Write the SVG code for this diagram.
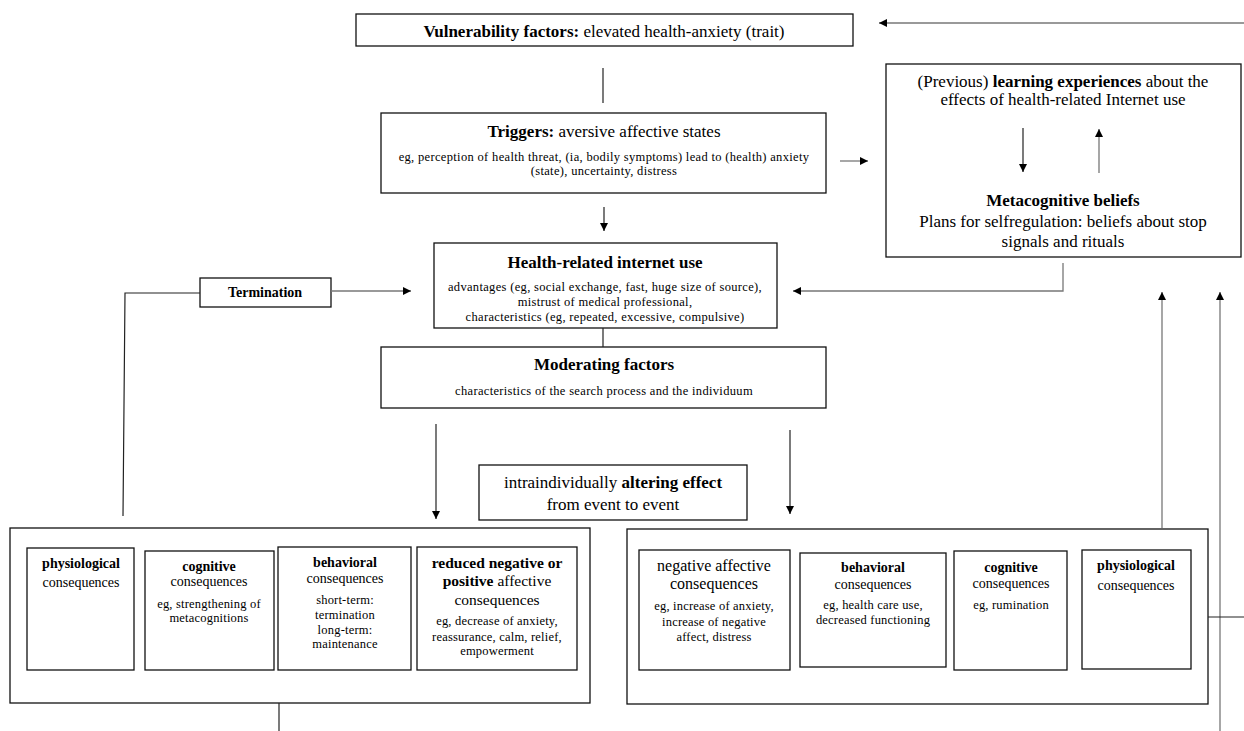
<svg xmlns="http://www.w3.org/2000/svg" width="1244" height="731" viewBox="0 0 1244 731">
<defs>
<marker id="ah" viewBox="0 0 10 10" refX="10" refY="5" markerWidth="9" markerHeight="8" markerUnits="userSpaceOnUse" orient="auto">
<path d="M0,0 L10,5 L0,10 z" fill="#000"/>
</marker>
<style>
.box{fill:#fff;stroke:#111;stroke-width:1.3}
.ln{fill:none;stroke:#222;stroke-width:1.2}
.lg{fill:none;stroke:#777;stroke-width:1.3}
text{font-family:"Liberation Serif","Times New Roman",serif;fill:#000;text-anchor:middle}
.b{font-weight:bold}
.t17{font-size:17px}
.t16{font-size:16px}
.t155{font-size:15.5px}
.t14{font-size:14px}
.sm{font-size:12.5px;letter-spacing:0.33px}
.sm2{font-size:12.5px;letter-spacing:0.2px}
</style>
</defs>
<rect width="1244" height="731" fill="#fff"/>

<g id="vulnerability">
<rect class="box" x="356" y="14" width="497" height="32"/>
<text class="t17" x="604" y="37"><tspan class="b">Vulnerability factors:</tspan> elevated health-anxiety (trait)</text>
</g>

<g id="triggers">
<rect class="box" x="381" y="113" width="445" height="80"/>
<text class="t17" x="604" y="137"><tspan class="b">Triggers:</tspan> aversive affective states</text>
<text class="sm" x="604" y="161">eg, perception of health threat, (ia, bodily symptoms) lead to (health) anxiety</text>
<text class="sm" x="604" y="175">(state), uncertainty, distress</text>
</g>

<g id="learning">
<rect class="box" x="886" y="64" width="355" height="193"/>
<text class="t17" x="1063" y="87">(Previous) <tspan class="b">learning experiences</tspan> about the</text>
<text class="t17" x="1063" y="105">effects of health-related Internet use</text>
<text class="t17 b" x="1063" y="206">Metacognitive beliefs</text>
<text class="t17" x="1063" y="227">Plans for selfregulation: beliefs about stop</text>
<text class="t17" x="1063" y="247">signals and rituals</text>
</g>

<g id="health-use">
<rect class="box" x="434" y="243" width="343" height="85"/>
<text class="t17 b" x="605" y="268">Health-related internet use</text>
<text class="sm" x="605" y="291">advantages (eg, social exchange, fast, huge size of source),</text>
<text class="sm" x="605" y="306">mistrust of medical professional,</text>
<text class="sm" x="605" y="321">characteristics (eg, repeated, excessive, compulsive)</text>
</g>

<g id="termination">
<rect class="box" x="200" y="278" width="131" height="29"/>
<text class="t14 b" x="265" y="297">Termination</text>
</g>

<g id="moderating">
<rect class="box" x="381" y="347" width="445" height="61"/>
<text class="t17 b" x="604" y="370">Moderating factors</text>
<text class="sm" x="604" y="395">characteristics of the search process and the individuum</text>
</g>

<g id="altering">
<rect class="box" x="479" y="465" width="268" height="55"/>
<text class="t17" x="613" y="488">intraindividually <tspan class="b">altering effect</tspan></text>
<text class="t17" x="613" y="510">from event to event</text>
</g>

<g id="positive-consequences">
<rect class="box" x="10" y="528" width="580" height="175"/>
<g id="pc-physiological">
<rect class="box" x="27" y="548" width="107" height="122"/>
<text class="t14 b" x="81" y="568">physiological</text>
<text class="t14" x="81" y="587">consequences</text>
</g>
<g id="pc-cognitive">
<rect class="box" x="145" y="551" width="129" height="119"/>
<text class="t14 b" x="209" y="571">cognitive</text>
<text class="t14" x="209" y="586">consequences</text>
<text class="sm2" x="209" y="608">eg, strengthening of</text>
<text class="sm2" x="209" y="622">metacognitions</text>
</g>
<g id="pc-behavioral">
<rect class="box" x="278" y="547" width="133" height="123"/>
<text class="t14 b" x="345" y="567">behavioral</text>
<text class="t14" x="345" y="583">consequences</text>
<text class="sm2" x="345" y="604">short-term:</text>
<text class="sm2" x="345" y="619">termination</text>
<text class="sm2" x="345" y="634">long-term:</text>
<text class="sm2" x="345" y="648">maintenance</text>
</g>
<g id="pc-affective">
<rect class="box" x="417" y="547" width="160" height="123"/>
<text class="t155 b" x="497" y="568">reduced negative or</text>
<text class="t155" x="497" y="586"><tspan class="b">positive</tspan> affective</text>
<text class="t155" x="497" y="605">consequences</text>
<text class="sm2" x="497" y="625">eg, decrease of anxiety,</text>
<text class="sm2" x="497" y="641">reassurance, calm, relief,</text>
<text class="sm2" x="497" y="655">empowerment</text>
</g>
</g>

<g id="negative-consequences">
<rect class="box" x="627" y="529" width="581" height="175"/>
<g id="nc-affective">
<rect class="box" x="639" y="550" width="151" height="120"/>
<text class="t16" x="714" y="571">negative affective</text>
<text class="t16" x="714" y="589">consequences</text>
<text class="sm2" x="714" y="610">eg, increase of anxiety,</text>
<text class="sm2" x="714" y="626">increase of negative</text>
<text class="sm2" x="714" y="641">affect, distress</text>
</g>
<g id="nc-behavioral">
<rect class="box" x="800" y="553" width="146" height="114"/>
<text class="t14 b" x="873" y="572">behavioral</text>
<text class="t14" x="873" y="589">consequences</text>
<text class="sm2" x="873" y="609">eg, health care use,</text>
<text class="sm2" x="873" y="624">decreased functioning</text>
</g>
<g id="nc-cognitive">
<rect class="box" x="954" y="551" width="113" height="119"/>
<text class="t14 b" x="1011" y="572">cognitive</text>
<text class="t14" x="1011" y="588">consequences</text>
<text class="sm2" x="1011" y="609">eg, rumination</text>
</g>
<g id="nc-physiological">
<rect class="box" x="1082" y="550" width="109" height="119"/>
<text class="t14 b" x="1136" y="570">physiological</text>
<text class="t14" x="1136" y="590">consequences</text>
</g>
</g>

<g id="connectors">
<line class="lg" x1="1244" y1="23" x2="879" y2="23" marker-end="url(#ah)"/>
<line class="ln" x1="603" y1="68" x2="603" y2="103"/>
<line class="ln" x1="604" y1="207" x2="604" y2="231" marker-end="url(#ah)"/>
<line class="lg" x1="840" y1="161" x2="868" y2="161" marker-end="url(#ah)"/>
<line class="ln" x1="1023" y1="128" x2="1023" y2="172" marker-end="url(#ah)"/>
<line class="lg" x1="1099" y1="173" x2="1099" y2="129" marker-end="url(#ah)"/>
<polyline class="lg" points="1063,263 1063,291 793,291" marker-end="url(#ah)"/>
<line class="lg" x1="331" y1="291" x2="411" y2="291" marker-end="url(#ah)"/>
<polyline class="ln" points="123,516 125,293 200,293"/>
<line class="ln" x1="603" y1="328" x2="603" y2="347"/>
<line class="ln" x1="436" y1="424" x2="436" y2="519" marker-end="url(#ah)"/>
<line class="ln" x1="790" y1="430" x2="790" y2="514" marker-end="url(#ah)"/>
<line class="ln" x1="279" y1="703" x2="279" y2="731"/>
<line class="lg" x1="1162" y1="528" x2="1162" y2="292" marker-end="url(#ah)"/>
<line class="lg" x1="1220" y1="731" x2="1220" y2="292" marker-end="url(#ah)"/>
<line class="ln" x1="1208" y1="617" x2="1244" y2="617"/>
</g>
</svg>
